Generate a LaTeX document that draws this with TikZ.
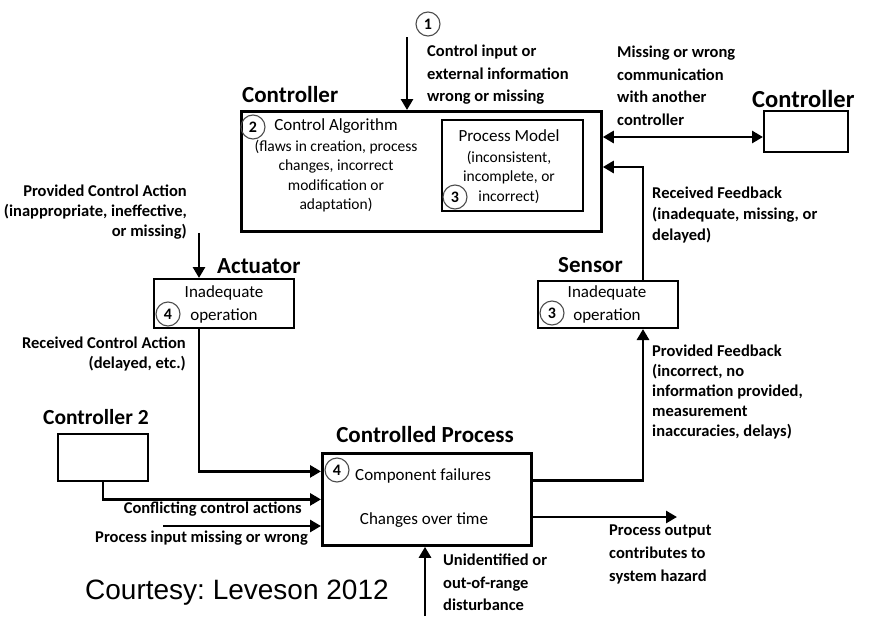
\documentclass[tikz,border=0pt]{standalone}
\usepackage{fontspec}
\setmainfont{Carlito}
\newfontfamily\arialfont{Liberation Sans}
\usetikzlibrary{arrows.meta,calc}
\tikzset{
  thickbox/.style={draw, line width=2.8pt, inner sep=0pt},
  thinbox/.style={draw, line width=2pt, inner sep=0pt},
  arr/.style={line width=2.8pt, -{Triangle[length=11pt,width=12pt]}},
  darr/.style={line width=2.8pt, {Triangle[length=11pt,width=12pt]}-{Triangle[length=11pt,width=12pt]}},
  ann/.style={inner sep=0pt, font=\fontsize{16.5}{21}\selectfont\bfseries},
  intext/.style={inner sep=0pt, font=\fontsize{17}{23}\selectfont},
  partext/.style={inner sep=0pt, font=\fontsize{15.5}{19.5}\selectfont},
  lbl/.style={inner sep=0pt, font=\fontsize{23}{26}\selectfont\bfseries},
  num/.style={circle, draw=black!70, line width=1.1pt, minimum size=24pt, inner sep=0pt, font=\fontsize{16}{16}\selectfont\bfseries}
}
\begin{document}
\frenchspacing
\begin{tikzpicture}[x=1pt,y=-1pt]
\useasboundingbox (0,0) rectangle (870,616);

% boxes
\node[thickbox, minimum width=360pt, minimum height=120pt, anchor=north west] (ctrl) at (240,110) {};
\node[thinbox, minimum width=141pt, minimum height=91pt, anchor=north west] (pm) at (441,119) {};
\node[thinbox, minimum width=84pt, minimum height=41pt, anchor=north west] (oc) at (763,110) {};
\node[thinbox, minimum width=140pt, minimum height=49pt, anchor=north west] (act) at (153,278) {};
\node[thinbox, minimum width=140pt, minimum height=47pt, anchor=north west] (sen) at (537,280) {};
\node[thickbox, minimum width=209pt, minimum height=92pt, anchor=north west] (cp) at (321,452) {};
\node[thinbox, minimum width=90pt, minimum height=47pt, anchor=north west] (c2) at (57,433) {};

% labels
\node[lbl, anchor=west] (lctrl) at (242,95) {Controller};
\node[lbl, anchor=west, font=\fontsize{24.5}{26}\selectfont\bfseries] (loc) at (752,99) {Controller};
\node[lbl, anchor=west] (lact) at (217,266) {Actuator};
\node[lbl, anchor=west] (lsen) at (558,265) {Sensor};
\node[lbl, anchor=center] (lcp) at (425,435) {Controlled Process};
\node[lbl, anchor=west, font=\fontsize{21.5}{26}\selectfont\bfseries] (lc2) at (43,417) {Controller 2};

% numbers
\node[num] (n1) at (428,24) {1};
\node[num] (n2) at (253,127) {2};
\node[num] (n3a) at (455,197) {3};
\node[num] (n4a) at (168,314) {4};
\node[num] (n3b) at (552,313) {3};
\node[num] (n4b) at (337,470) {4};

% texts inside boxes
\node[partext, align=center, anchor=north] (ca) at (336,118) {{\fontsize{17}{19.5}\selectfont Control Algorithm}\\[1.5pt](flaws in creation, process\\changes, incorrect\\modification or\\adaptation)};
\node[partext, align=center, anchor=north] (pmt) at (509,129) {{\fontsize{17}{19.5}\selectfont Process Model}\\[1.5pt](inconsistent,\\incomplete, or\\incorrect)};
\node[intext, align=center, anchor=north] (actt) at (224,285) {Inadequate\\operation};
\node[intext, align=center, anchor=north] (sent) at (607,285) {Inadequate\\operation};
\node[intext, anchor=west] (cf) at (355,476) {Component failures};
\node[intext, anchor=center] (cot) at (424,520) {Changes over time};

% annotations
\node[ann, align=left, anchor=north west, font=\fontsize{16.5}{22.5}\selectfont\bfseries] (a1) at (427,45) {Control input or\\external information\\wrong or missing};
\node[ann, align=left, anchor=north west, font=\fontsize{16.5}{22.5}\selectfont\bfseries] (a2) at (617,46) {Missing or wrong\\communication\\with another\\controller};
\node[ann, align=right, anchor=north east, font=\fontsize{16.5}{20}\selectfont\bfseries] (a3) at (187,185) {Provided Control Action\\(inappropriate, ineffective,\\or missing)};
\node[ann, align=left, anchor=north west] (a4) at (652,187) {Received Feedback\\(inadequate, missing, or\\delayed)};
\node[ann, align=right, anchor=north east, font=\fontsize{16.5}{20}\selectfont\bfseries] (a5) at (186,337) {Received Control Action\\(delayed, etc.)};
\node[ann, align=left, anchor=north west, font=\fontsize{16.5}{20}\selectfont\bfseries] (a6) at (652,345) {Provided Feedback\\(incorrect, no\\information provided,\\measurement\\inaccuracies, delays)};
\node[ann, anchor=east] (a7) at (302,509) {Conflicting control actions};
\node[ann, anchor=east] (a8) at (308,538) {Process input missing or wrong};
\node[ann, align=left, anchor=north west, font=\fontsize{16.5}{22.5}\selectfont\bfseries] (a9) at (443,554) {Unidentified or\\out-of-range\\disturbance};
\node[ann, align=left, anchor=north west, font=\fontsize{16.5}{23}\selectfont\bfseries] (a10) at (609,525) {Process output\\contributes to\\system hazard};
\node[inner sep=0pt, anchor=west, font=\arialfont\fontsize{28}{30}\selectfont] (court) at (85,593) {Courtesy: Leveson 2012};

% connectors
\coordinate (topin) at (407,37);
\draw[arr] (topin) -- (topin |- ctrl.north);
\draw[darr] ([yshift=-5.5pt]ctrl.east |- oc.west) -- ([yshift=-5.5pt]oc.west);
\draw[arr] ([xshift=35pt]sen.north) |- ([yshift=-57pt]ctrl.north east);
\draw[arr] ([xshift=-25pt]act.north |- ctrl.south) -- ([xshift=-25pt]act.north);
\draw[arr] ([xshift=-25pt]act.south) |- ([yshift=28pt]cp.west);
\draw[arr] (c2.south) |- (cp.west);
\coordinate (pin) at (163,526);
\draw[arr] (pin) -- (pin -| cp.west);
\draw[arr] ([yshift=19pt]cp.east) -| ([xshift=35pt]sen.south);
\coordinate (out) at (677,517);
\draw[arr] (out -| cp.east) -- (out);
\coordinate (dist) at (425,616);
\draw[arr] (dist) -- (dist |- cp.south);
\end{tikzpicture}
\end{document}
